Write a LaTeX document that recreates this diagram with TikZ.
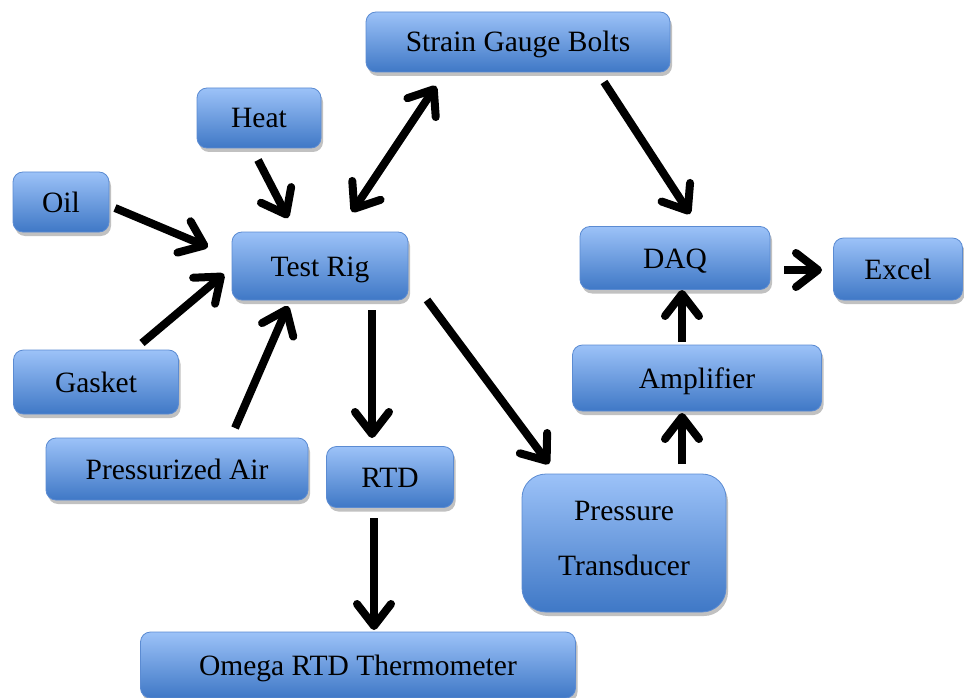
\documentclass[tikz,border=0pt]{standalone}
\usepackage{fontspec}
\setmainfont{Liberation Serif}
\usetikzlibrary{arrows.meta,shadows}
\definecolor{boxtop}{HTML}{9CC2F8}
\definecolor{boxbot}{HTML}{3F78C6}
\definecolor{boxline}{HTML}{5B8BD2}
\tikzset{
  blk/.style={draw=boxline, line width=0.8pt, rounded corners=10pt,
    top color=boxtop, bottom color=boxbot, inner sep=0pt,
    text height=22pt, text depth=2pt,
    font=\fontsize{29.5}{36}\selectfont, text=black,
    drop shadow={shadow xshift=2pt, shadow yshift=-4pt, opacity=0.35, fill=black!70}},
  barb/.tip={Straight Barb[length=22pt,width=34pt,line width=8pt,line cap=round,line join=round]},
  flow/.style={line width=8pt, line cap=butt, -barb},
  flowboth/.style={line width=8pt, line cap=butt, barb-barb}
}
\begin{document}
\begin{tikzpicture}[x=1pt,y=-1pt]
\useasboundingbox (0,0) rectangle (964,698);
% boxes
\node[blk, minimum width=304pt, minimum height=60pt] (sgb) at (518,42) {Strain Gauge Bolts};
\node[blk, minimum width=124pt, minimum height=60pt] (heat) at (259,118) {Heat};
\node[blk, minimum width=96pt, minimum height=60pt] (oil) at (61,202) {Oil};
\node[blk, minimum width=176pt, minimum height=68pt] (rig) at (320,266) {Test Rig};
\node[blk, minimum width=165pt, minimum height=64pt] (gasket) at (96,382) {Gasket};
\node[blk, minimum width=262pt, minimum height=62pt] (air) at (177,469) {Pressurized Air};
\node[blk, minimum width=127pt, minimum height=61pt] (rtd) at (390,477) {RTD};
\node[blk, minimum width=435pt, minimum height=66pt] (omega) at (358,665) {Omega RTD Thermometer};
\node[blk, rounded corners=24pt, minimum width=204pt, minimum height=138pt, align=center,
  text height={}, text depth={}, font=\fontsize{29.5}{55}\selectfont] (pt) at (624,543)
  {Pressure\\Transducer\rule[-10pt]{0pt}{10pt}};
\node[blk, minimum width=249pt, minimum height=66pt] (amp) at (697,378) {Amplifier};
\node[blk, minimum width=190pt, minimum height=63pt] (daq) at (675,258) {DAQ};
\node[blk, minimum width=129pt, minimum height=62pt] (excel) at (898,269) {Excel};
% arrow end points
\coordinate (heatA) at (258,160); \coordinate (heatB) at (288,218);
\coordinate (oilA) at (115,208); \coordinate (oilB) at (208,247);
\coordinate (gasA) at (142,343); \coordinate (gasB) at (224,274);
\coordinate (airA) at (235,428); \coordinate (airB) at (288,306);
\coordinate (sgA) at (352,212); \coordinate (sgB) at (436,86);
\coordinate (daqA) at (604,82); \coordinate (daqB) at (690,214);
\coordinate (rtdA) at (372,310); \coordinate (rtdB) at (372,438);
\coordinate (ptA) at (427,300); \coordinate (ptB) at (549,464);
\coordinate (omA) at (374,518); \coordinate (omB) at (374,630);
\coordinate (ampA) at (682,464); \coordinate (ampB) at (682,413);
\coordinate (dqA) at (682,342); \coordinate (dqB) at (682,290);
\coordinate (exA) at (784,270); \coordinate (exB) at (822,270);
% connectors
\draw[flow] (heatA) -- (heatB);
\draw[flow] (oilA) -- (oilB);
\draw[flow] (gasA) -- (gasB);
\draw[flow] (airA) -- (airB);
\draw[flowboth] (sgA) -- (sgB);
\draw[flow] (daqA) -- (daqB);
\draw[flow] (rtdA) -- (rtdB);
\draw[flow] (ptA) -- (ptB);
\draw[flow] (omA) -- (omB);
\draw[flow] (ampA) -- (ampB);
\draw[flow] (dqA) -- (dqB);
\draw[flow] (exA) -- (exB);
\end{tikzpicture}
\end{document}
